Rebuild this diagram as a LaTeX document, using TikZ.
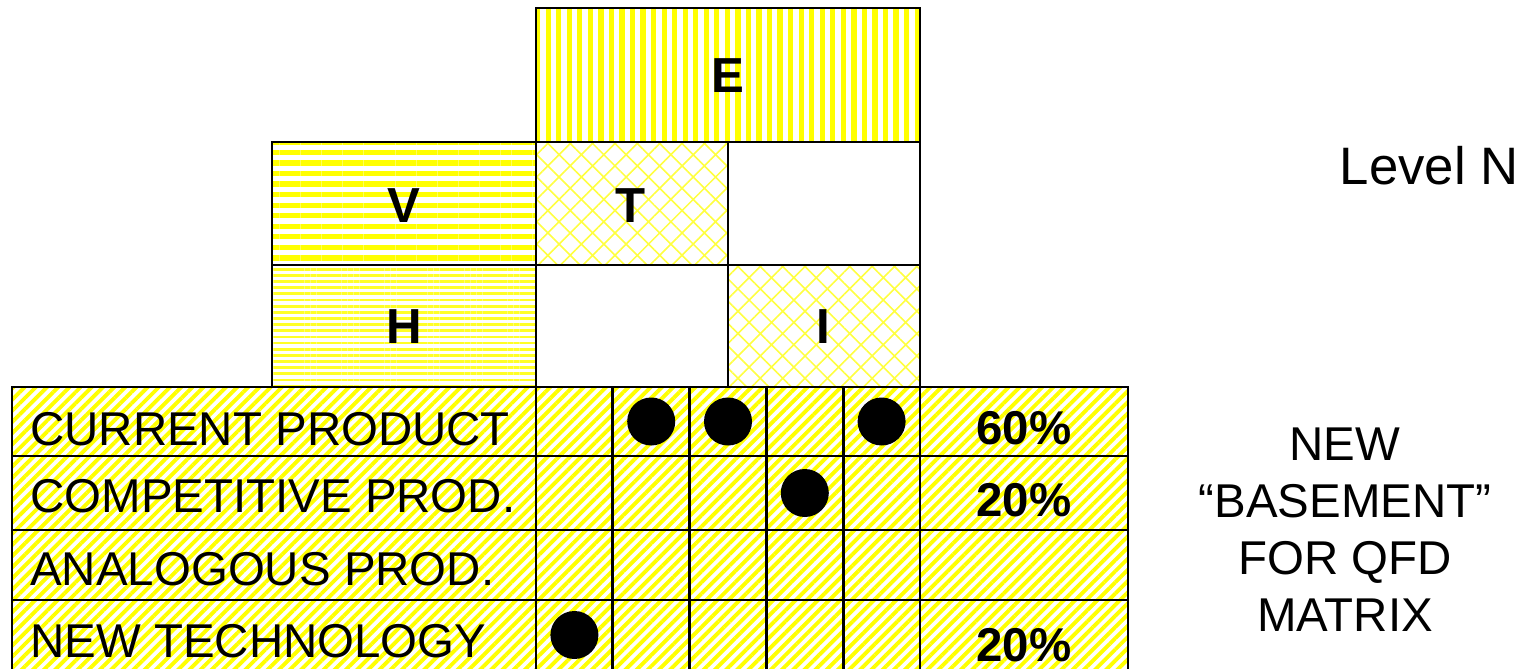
\documentclass[tikz,border=0pt]{standalone}
\usepackage{fontspec}
\setmainfont{Liberation Sans}
\usetikzlibrary{patterns.meta}
\tikzset{cellline/.style={draw=black,line width=1.5pt},
  efill/.style={pattern={Lines[angle=90,distance=6pt,line width=3pt]},pattern color=yellow},
  vfill/.style={pattern={Lines[angle=0,distance=6pt,line width=3pt]},pattern color=yellow},
  hfill/.style={pattern={Lines[angle=0,distance=3.5pt,line width=1.6pt]},pattern color=yellow!85},
  tfill/.style={pattern={Hatch[angle=45,distance=9pt,line width=0.9pt]},pattern color=yellow!75},
  basefill/.style={pattern={Lines[angle=45,distance=4.5pt,line width=2.2pt]},pattern color=yellow},
  letter/.style={font=\fontsize{28}{32}\selectfont\bfseries,inner sep=0pt,anchor=base},
  rowlabel/.style={font=\fontsize{27}{30}\selectfont,inner sep=0pt,anchor=base west},
  pct/.style={font=\fontsize{27}{30}\selectfont\bfseries,inner sep=0pt,anchor=base},
  sidetext/.style={font=\fontsize{27}{32.5}\selectfont,inner sep=0pt,align=center}}

\begin{document}
\begin{tikzpicture}[x=0.02cm,y=-0.02cm]
\fill[white] (0,0) rectangle (1534,669);
\useasboundingbox (0,0) rectangle (1534,669);
% roof and walls of the house
\draw[cellline,efill] (536,8) rectangle (920,142);
\draw[cellline,vfill] (272,142) rectangle (536,265);
\draw[cellline,hfill] (272,265) rectangle (536,387);
\draw[cellline,tfill] (536,142) rectangle (728,265);
\draw[cellline] (728,142) rectangle (920,265);
\draw[cellline] (536,265) rectangle (728,387);
\draw[cellline,tfill] (728,265) rectangle (920,387);
\node[letter] (e) at (728,92) {E};
\node[letter] (v) at (404,222) {V};
\node[letter] (t) at (631,222) {T};
\node[letter] (h) at (404,343) {H};
\node[letter] (i) at (823,343) {I};
% basement
\fill[basefill] (12,387) rectangle (1128,672);
\foreach \y in {456,530,600}
  \draw[cellline] (12,\y) -- (1128,\y);
\foreach \x in {536,612.8,689.6,766.4,843.2,920}
  \draw[cellline] (\x,387) -- (\x,672);
\draw[cellline] (12,387) rectangle (1128,672);
\foreach \t/\y [count=\i] in {CURRENT PRODUCT/445,COMPETITIVE PROD./512,ANALOGOUS PROD./585,NEW TECHNOLOGY/657}
  \node[rowlabel] (row\i) at (30,\y) {\t};
\foreach \x/\y in {651.2/421.5,728/421.5,881.6/421.5,804.8/493,574.4/635}
  \fill (\x,\y) circle [radius=24];
\node[pct] (p1) at (1024,444) {60\%};
\node[pct] (p2) at (1024,516) {20\%};
\node[pct] (p4) at (1024,661) {20\%};
% side notes
\node[sidetext,font=\fontsize{30}{34}\selectfont,anchor=base east] (level) at (1519,184) {Level N};
\node[sidetext] (basement) at (1345,530) {NEW\\``BASEMENT''\\FOR QFD\\MATRIX};
\end{tikzpicture}
\end{document}
